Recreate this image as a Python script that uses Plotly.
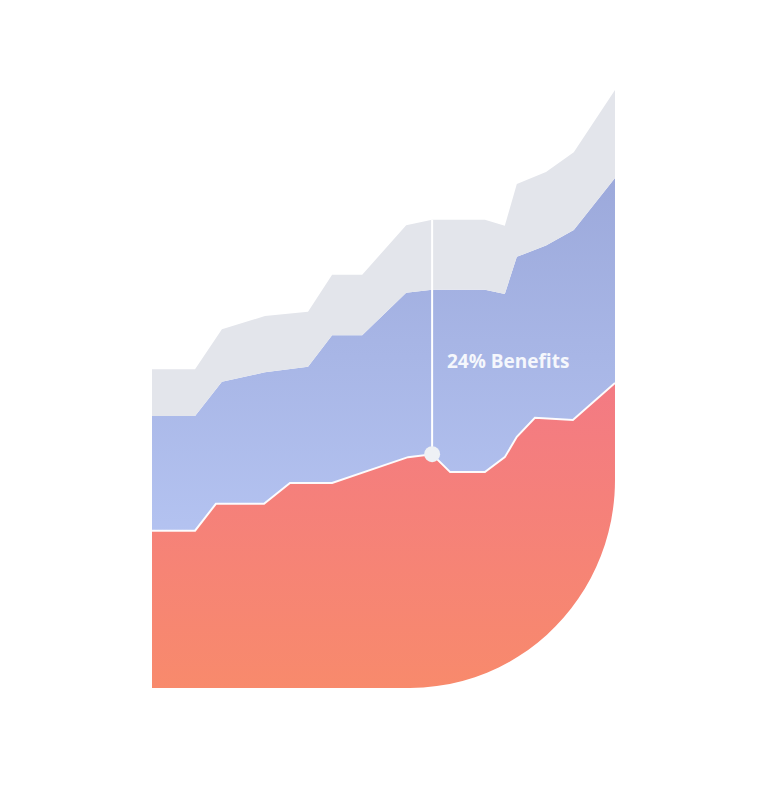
import plotly.graph_objects as go

# --- data (x = period position 0..100, y = value 0..100) ---
benefit_x = [0, 9.3, 13.8, 24.2, 29.8, 38.9, 55.3, 60.5, 64.4, 71.9, 76.2, 78.8, 82.7, 90.9, 100]
benefit_y = [26.3, 26.3, 30.8, 30.8, 34.3, 34.3, 38.6, 39.1, 36.1, 36.1, 38.6, 42.0, 45.2, 44.8, 51.0]

middle_x = [0, 9.3, 15.1, 24.4, 33.7, 38.9, 45.4, 54.9, 60.5, 71.9, 76.2, 78.8, 85.1, 91.1, 100]
middle_y = [45.5, 45.5, 51.2, 52.8, 53.7, 59.0, 59.0, 66.1, 66.6, 66.6, 65.9, 72.1, 74.0, 76.6, 85.3]

top_x = [0, 9.3, 15.1, 24.4, 33.7, 38.9, 45.4, 54.9, 60.5, 71.9, 76.2, 78.8, 85.1, 91.1, 100]
top_y = [53.3, 53.3, 60.0, 62.2, 62.9, 69.1, 69.1, 77.4, 78.3, 78.3, 77.3, 84.3, 86.3, 89.6, 100.0]

highlight_x = 60.5
highlight_low = 39.1
highlight_high = 78.3
highlight_label = "24% Benefits"

W, H = 768, 791
OFF = 8  # page body offset
PL, PR, PT, PB = 152, 615, 90, 688  # target plot box in screenshot pixels
L, R, T, B = PL - OFF, W - (PR - OFF), PT - OFF, H - (PB - OFF)

fig = go.Figure()

fig.add_trace(go.Scatter(
    x=benefit_x, y=benefit_y, mode="lines",
    line=dict(color="rgba(255,255,255,0.95)", width=2),
    fill="tozeroy",
    fillgradient=dict(type="vertical", start=0, stop=52,
                      colorscale=[[0, "#F88A6C"], [1, "#F37A84"]]),
    hoverinfo="skip", showlegend=False))

fig.add_trace(go.Scatter(
    x=middle_x, y=middle_y, mode="lines",
    line=dict(color="rgba(0,0,0,0)", width=0),
    fill="tonexty",
    fillgradient=dict(type="vertical", start=25, stop=86,
                      colorscale=[[0, "#B4C3F1"], [1, "#9CA9DB"]]),
    hoverinfo="skip", showlegend=False))

fig.add_trace(go.Scatter(
    x=top_x, y=top_y, mode="lines",
    line=dict(color="rgba(0,0,0,0)", width=0),
    fill="tonexty", fillcolor="#E3E5EB",
    hoverinfo="skip", showlegend=False))

# highlight line + marker
fig.add_trace(go.Scatter(
    x=[highlight_x, highlight_x], y=[highlight_low, highlight_high], mode="lines",
    line=dict(color="white", width=2), hoverinfo="skip", showlegend=False))
fig.add_trace(go.Scatter(
    x=[highlight_x], y=[highlight_low], mode="markers",
    marker=dict(color="#EEF1F5", size=16, line=dict(width=0)),
    hoverinfo="skip", showlegend=False))

fig.add_annotation(x=63.2, y=54.6, xref="x", yref="y", text=highlight_label,
                   showarrow=False, xanchor="left", yanchor="middle",
                   font=dict(family="Open Sans", size=19, color="#F5F7FC", weight="bold"))

# rounded bottom-right corner mask (paper coords, from screenshot pixels)
pw, ph = PR - PL, PB - PT
def px(x): return (x - PL) / pw
def py(y): return (PB - y) / ph
cx, cy, rx, ry = 410, 480, 205, 208
k = 0.5523
path = (f"M {px(640)},{py(cy)} L {px(cx+rx)},{py(cy)} "
        f"C {px(cx+rx)},{py(cy+k*ry)} {px(cx+k*rx)},{py(cy+ry)} {px(cx)},{py(cy+ry)} "
        f"L {px(cx)},{py(700)} L {px(640)},{py(700)} Z")
fig.add_shape(type="path", path=path, xref="paper", yref="paper",
              fillcolor="white", line=dict(width=0), layer="above")

fig.update_layout(
    width=W, height=H,
    margin=dict(l=L, r=R, t=T, b=B),
    paper_bgcolor="white", plot_bgcolor="white",
    xaxis=dict(range=[0, 100], visible=False, fixedrange=True),
    yaxis=dict(range=[0, 100], visible=False, fixedrange=True),
    hovermode=False,
)

fig.write_html("out.html")
